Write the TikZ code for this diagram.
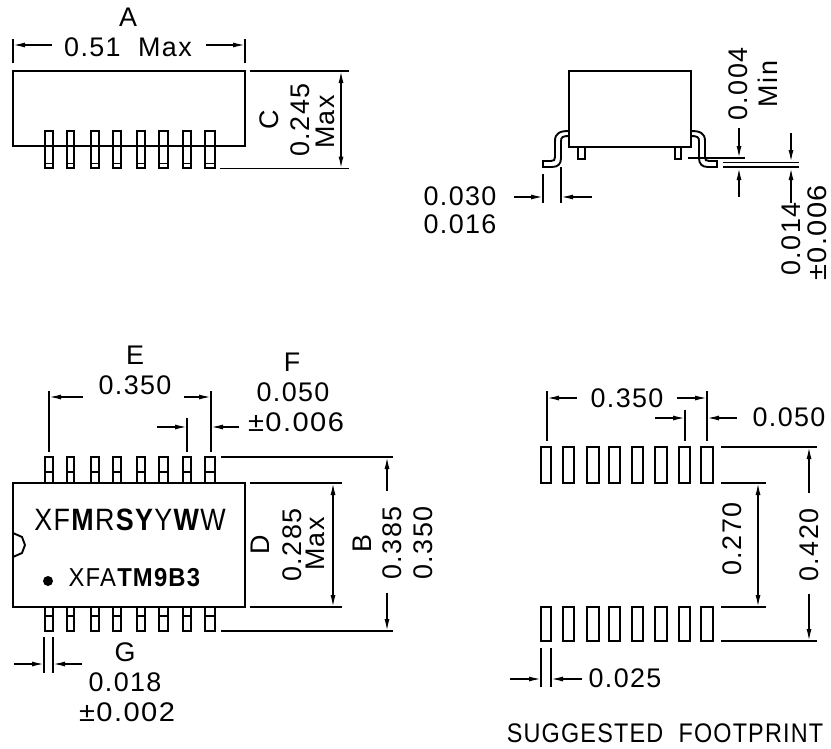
\documentclass[tikz,border=0pt]{standalone}
\usepackage{fontspec}
\setmainfont{Liberation Sans}[LetterSpace=5]
\usetikzlibrary{arrows.meta}

\tikzset{
	dim text/.style={font=\fontsize{27}{27}\selectfont, inner sep=0pt},
	dim vert/.style={dim text, rotate=90},
	dim arrow/.style={-{Latex[length=12bp,width=5bp]}, line width=1.5bp},
	dim both/.style={{Latex[length=12bp,width=5bp]}-{Latex[length=12bp,width=5bp]}, line width=1.5bp},
}

\begin{document}
\begin{tikzpicture}[x=1bp, y=-1bp, line width=1.9bp, line join=miter]
	\useasboundingbox (0,0) rectangle (831,749);

	% side view, pins in front
	\draw (13,71) rectangle (245,146);
	\foreach \l/\r in {45/53,67/74,91/99,113/121,137/145,159/168,183/191,205/215} {
		\draw (\l,131) rectangle (\r,168);
		\draw (\l,163.5) -- (\r,163.5);
	}
	\draw (13,39) -- (13,63);
	\draw (245,39) -- (245,63);
	\draw [dim arrow] (52,45) -- (13,45);
	\draw [dim arrow] (206,45) -- (245,45);
	\node (lblA) at (128,17) [dim text] {A};
	\node (valA) at (128,47) [dim text] {0.51~~Max};
	\draw (250,71) -- (349,71);
	\draw (220,168.5) -- (349,168.5);
	\draw [dim both] (341,71) -- (341,168.5);
	\node (lblC) at (269,120) [dim vert] {C};
	\node (valC) at (300,120) [dim vert] {0.245};
	\node (maxC) at (325,122) [dim vert] {Max};

	% end view
	\draw (569,71) rectangle (691,147);
	\draw (578,147) rectangle (585,159);
	\draw (675,147) rectangle (681,159);
	\draw (569,131) .. controls (560,131) and (555,133) .. (555,141) -- (555,157)
		.. controls (555,160) and (554,161) .. (551,161) -- (543,161) -- (543,167) -- (552,167)
		.. controls (558,167) and (561,164) .. (561,158) -- (561,141)
		.. controls (561,137) and (563,136) .. (569,136);
	\draw (691,131) .. controls (700,131) and (705,133) .. (705,141) -- (705,157)
		.. controls (705,160) and (706,161) .. (709,161) -- (717,161) -- (717,167) -- (708,167)
		.. controls (702,167) and (699,164) .. (699,158) -- (699,141)
		.. controls (699,137) and (697,136) .. (691,136);
	\draw (688,158) -- (745,158);
	\draw (723,162.5) -- (799,162.5);
	\draw (723,167) -- (799,167);
	\draw [dim arrow] (739,128) -- (739,158);
	\draw [dim arrow] (739,197) -- (739,168);
	\draw [dim arrow] (791,133) -- (791,162);
	\draw [dim arrow] (791,203) -- (791,168);
	\draw (543,174) -- (543,203);
	\draw (561,167) -- (561,203);
	\draw [dim arrow] (514,197) -- (543,197);
	\draw [dim arrow] (592,197) -- (561,197);
	\node (maxLead) at (460,196) [dim text] {0.030};
	\node (minLead) at (460,224) [dim text] {0.016};
	\node (valGap) at (738,84) [dim vert] {0.004};
	\node (minGap) at (768,84) [dim vert] {Min};
	\node (valThk) at (791,239) [dim vert] {0.014};
	\node (tolThk) at (817,233) [dim vert, xscale=1.08] {±0.006};

	% top view
	\draw (13,483) rectangle (245,607);
	\draw (13,533) -- (22,537) -- (25,545) -- (22,553) -- (13,557);
	\foreach \l/\r in {45/53,67/74,91/99,113/121,137/145,159/168,183/191,205/215} {
		\draw (\l,483) -- (\l,457) -- (\r,457) -- (\r,483);
		\draw (\l,472) -- (\r,472);
		\draw (\l,607) -- (\l,631) -- (\r,631) -- (\r,607);
		\draw (\l,616) -- (\r,616);
	}
	\node (markTop) at (130,520) [inner sep=0pt, xscale=.87, font=\fontsize{31}{31}\selectfont] {XF\textbf{M}R\textbf{SY}Y\textbf{W}W};
	\node (markBot) at (135,578) [inner sep=0pt, xscale=.92, font=\fontsize{26}{26}\selectfont] {XFA\textbf{TM9B3}};
	\fill (48,581) circle (5);
	\draw (49,391) -- (49,452);
	\draw (211,391) -- (211,452);
	\draw (187,418) -- (187,452);
	\draw [dim arrow] (83,397) -- (49,397);
	\draw [dim arrow] (184,397) -- (211,397);
	\draw [dim arrow] (157,427) -- (187,427);
	\draw [dim arrow] (239,427) -- (211,427);
	\node (lblE) at (135,355) [dim text] {E};
	\node (valE) at (135,385) [dim text] {0.350};
	\node (lblF) at (292,362) [dim text] {F};
	\node (valF) at (293,392) [dim text] {0.050};
	\node (tolF) at (296,422) [dim text, xscale=1.08] {±0.006};
	\draw (221,457) -- (393,457);
	\draw (221,631) -- (393,631);
	\draw (250,483) -- (342,483);
	\draw (250,607) -- (342,607);
	\draw [dim both] (333,483) -- (333,607);
	\draw [dim arrow] (387,491) -- (387,457);
	\draw [dim arrow] (387,593) -- (387,631);
	\node (lblD) at (260,545) [dim vert] {D};
	\node (valD) at (292,545) [dim vert] {0.285};
	\node (maxD) at (315,544) [dim vert] {Max};
	\node (lblB) at (362,544) [dim vert] {B};
	\node (maxB) at (392,543) [dim vert] {0.385};
	\node (minB) at (423,543) [dim vert] {0.350};
	\draw (44,637) -- (44,673);
	\draw (53,637) -- (53,673);
	\draw [dim arrow] (14,664) -- (44,664);
	\draw [dim arrow] (82,664) -- (53,664);
	\node (lblG) at (125,652) [dim text] {G};
	\node (valG) at (125,682) [dim text] {0.018};
	\node (tolG) at (127,712) [dim text, xscale=1.08] {±0.002};

	% footprint
	\foreach \l/\r in {541/551,563/574,587/599,609/620,632/643,655/667,679/690,701/713} {
		\draw (\l,447) rectangle (\r,483);
		\draw (\l,607) rectangle (\r,641);
	}
	\draw (547,391) -- (547,441);
	\draw (707,391) -- (707,441);
	\draw (685,410) -- (685,441);
	\draw [dim arrow] (577,398) -- (547,398);
	\draw [dim arrow] (677,398) -- (707,398);
	\draw [dim arrow] (655,418) -- (685,418);
	\draw [dim arrow] (737,418) -- (707,418);
	\node (padPitch) at (627,398) [dim text] {0.350};
	\node (padStep) at (789,417) [dim text] {0.050};
	\draw (721,447) -- (817,447);
	\draw (721,641) -- (817,641);
	\draw (721,483) -- (766,483);
	\draw (721,607) -- (766,607);
	\draw [dim both] (758,483) -- (758,607);
	\draw [dim arrow] (809,493) -- (809,447);
	\draw [dim arrow] (809,594) -- (809,641);
	\node (padGap) at (732,539) [dim vert] {0.270};
	\node (padSpan) at (809,545) [dim vert] {0.420};
	\draw (541,648) -- (541,687);
	\draw (551,648) -- (551,687);
	\draw [dim arrow] (510,679) -- (541,679);
	\draw [dim arrow] (582,679) -- (551,679);
	\node (padWidth) at (625,678) [dim text] {0.025};
	\node (padTitle) at (665,733) [dim text, xscale=.87] {SUGGESTED~~FOOTPRINT};
\end{tikzpicture}
\end{document}
